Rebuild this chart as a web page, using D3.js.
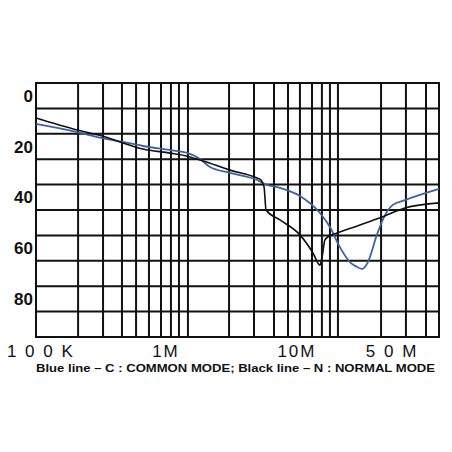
<!DOCTYPE html>
<html>
<head>
<meta charset="utf-8">
<script src="https://cdn.jsdelivr.net/npm/d3@7"></script>
<style>
  html, body { margin: 0; padding: 0; background: #fff; }
  svg { display: block; }
</style>
</head>
<body>
<svg id="chart" width="452" height="452"></svg>
<script>
// frequencies in MHz, attenuation in dB
var commonMode = [
  [0.1, 11.1], [0.187, 14.3], [0.274, 16.7], [0.377, 18.2], [0.511, 19.8],
  [0.772, 21.4], [1.015, 22.6], [1.22, 24.9], [1.42, 28.1], [1.93, 30.4],
  [2.91, 33.2], [3.29, 34.8], [4.13, 36.3], [5.6, 39.5], [7.6, 46.2],
  [8.85, 51.7], [10.3, 59.6], [12.0, 65.5], [13.0, 67.0], [14.4, 68.2],
  [15.8, 65.5], [18.1, 54.8], [20.5, 47.0], [23.1, 43.0], [27.8, 41.1],
  [46.7, 36.7]
]
var normalMode = [
  [0.1, 8.8], [0.187, 13.5], [0.274, 15.9], [0.377, 18.6], [0.511, 21.0],
  [0.772, 22.6], [1.015, 23.9], [1.28, 25.7], [1.93, 29.3], [2.91, 32.4],
  [3.09, 33.2], [3.24, 35.9], [3.34, 45.0], [4.13, 48.9], [5.6, 54.8],
  [6.83, 61.9], [7.6, 66.7], [7.83, 63.9], [8.2, 56.8], [8.59, 55.6],
  [9.85, 54.1], [14.0, 50.9], [19.0, 48.1], [27.8, 44.2], [46.7, 42.2]
]

// grid as drawn on the sheet (MHz / dB)
var xGrid = [0.1, 0.19, 0.278, 0.371, 0.46, 0.56, 0.673, 0.783, 0.885, 1.015,
  1.9, 2.78, 3.77, 4.67, 5.6, 6.73, 7.83, 8.85, 10, 19.3, 28.2, 38.3, 46.7]
var yGrid = [-5, 5, 15, 25, 35, 45, 55, 65, 75, 85, 95]

var yTicks = [0, 20, 40, 60, 80]
var xTickLabels = ['1 0 0 K', '1M', '10M', '5 0 M']
var xTickAt = [0.106, 0.715, 5.27, 22.5]

var caption = 'Blue line \u2013 C : COMMON MODE; Black line \u2013 N : NORMAL MODE'

var svg = d3.select('#chart')

var x = d3.scaleLog().domain([0.1, 46.7]).range([36, 439])
var y = d3.scaleLinear().domain([-5, 95]).range([83, 337])

var grid = svg.append('g')
  .attr('stroke', '#111')
  .attr('stroke-width', 2)

grid.selectAll('line.v')
  .data(xGrid)
  .join('line')
  .attr('class', 'v')
  .attr('x1', (d) => x(d))
  .attr('x2', (d) => x(d))
  .attr('y1', y(-5))
  .attr('y2', y(95))

grid.selectAll('line.h')
  .data(yGrid)
  .join('line')
  .attr('class', 'h')
  .attr('x1', x(0.1) - 1)
  .attr('x2', x(46.7) + 1)
  .attr('y1', (d) => y(d))
  .attr('y2', (d) => y(d))

var line = d3.line()
  .x((d) => x(d[0]))
  .y((d) => y(d[1]))
  .curve(d3.curveMonotoneX)

svg.append('path')
  .datum(commonMode)
  .attr('fill', 'none')
  .attr('stroke', '#3d62a5')
  .attr('stroke-width', 1.8)
  .attr('d', line)

svg.append('path')
  .datum(normalMode)
  .attr('fill', 'none')
  .attr('stroke', '#111')
  .attr('stroke-width', 1.6)
  .attr('d', line)

// y labels
svg.append('g')
  .selectAll('text')
  .data(yTicks)
  .join('text')
  .attr('x', 33)
  .attr('y', (d) => y(d))
  .attr('dy', '0.36em')
  .attr('text-anchor', 'end')
  .attr('font-family', 'Liberation Sans, Arial, sans-serif')
  .attr('font-weight', 'bold')
  .attr('font-size', 17)
  .attr('fill', '#111')
  .text((d) => d)

// x labels
svg.append('g')
  .selectAll('text')
  .data(xTickLabels)
  .join('text')
  .attr('x', (d, i) => x(xTickAt[i]) + 1)
  .attr('y', 357)
  .attr('text-anchor', 'middle')
  .attr('font-family', 'Liberation Sans, Arial, sans-serif')
  .attr('font-size', 17)
  .attr('letter-spacing', 2)
  .attr('fill', '#111')
  .text((d) => d)

svg.append('text')
  .attr('x', 36)
  .attr('y', 372)
  .attr('font-family', 'Liberation Sans, Arial, sans-serif')
  .attr('font-weight', 'bold')
  .attr('font-size', 11.5)
  .attr('textLength', 399)
  .attr('lengthAdjust', 'spacingAndGlyphs')
  .attr('fill', '#111')
  .text(caption)
</script>
</body>
</html>
